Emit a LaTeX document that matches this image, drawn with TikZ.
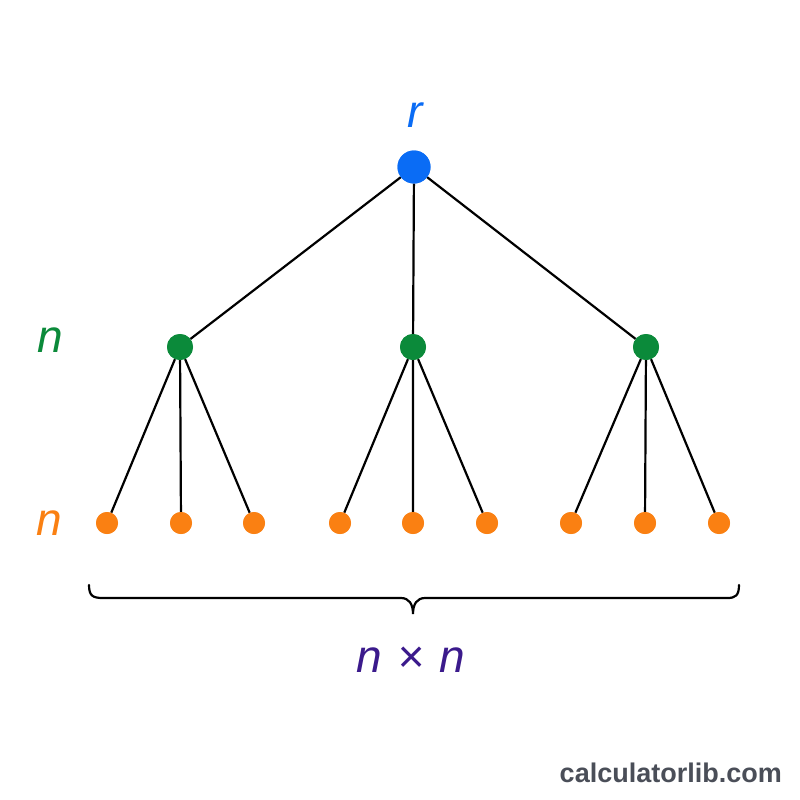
\documentclass[tikz,border=0pt]{standalone}
\usepackage{fontspec}
\setmainfont{Liberation Sans}
\definecolor{rootblue}{HTML}{0A6CF5}
\definecolor{midgreen}{HTML}{0B8A3A}
\definecolor{leaforange}{HTML}{FA8012}
\definecolor{labpurple}{HTML}{3B1A8C}
\definecolor{markgray}{HTML}{4A4E58}
\begin{document}
\begin{tikzpicture}[x=1pt,y=-1pt,
  rootdot/.style={circle,fill=rootblue,inner sep=0pt,minimum size=33pt},
  middot/.style={circle,fill=midgreen,inner sep=0pt,minimum size=26pt},
  leafdot/.style={circle,fill=leaforange,inner sep=0pt,minimum size=22pt},
  edge/.style={draw=black,line width=2.2pt},
  lab/.style={font=\fontsize{46}{50}\selectfont\itshape,anchor=base,inner sep=0pt}]
\useasboundingbox[fill=white] (0,0) rectangle (800,800);
% nodes
\node[rootdot] (r) at (414,167) {};
\node[middot] (m1) at (180,347) {};
\node[middot] (m2) at (413,347) {};
\node[middot] (m3) at (646,347) {};
\foreach \i/\x in {1/107,2/181,3/254,4/340,5/413,6/487,7/571,8/645,9/719}
  \node[leafdot] (l\i) at (\x,523) {};
% edges
\path[edge] (r) -- (m1) (r) -- (m2) (r) -- (m3);
\path[edge] (m1) -- (l1) (m1) -- (l2) (m1) -- (l3);
\path[edge] (m2) -- (l4) (m2) -- (l5) (m2) -- (l6);
\path[edge] (m3) -- (l7) (m3) -- (l8) (m3) -- (l9);
% redraw dots over edges
\node[rootdot] at (r) {};
\foreach \m in {m1,m2,m3} \node[middot] at (\m) {};
\foreach \i in {1,...,9} \node[leafdot] at (l\i) {};
% labels
\node[lab,text=rootblue] (rlab) at (415,127) {r};
\node[lab,text=midgreen] (nlab) at (50,352) {n};
\node[lab,text=leaforange] (olab) at (49,535) {n};
% brace
\draw[line width=2.2pt,line cap=round]
  (89,585) .. controls (89,596) and (93,598) .. (103,598) -- (401,598)
  .. controls (409,598) and (413,604) .. (413,614)
  .. controls (413,604) and (417,598) .. (425,598) -- (727,598)
  .. controls (735,598) and (739,596) .. (739,585);
\node[lab,text=labpurple] (prod) at (411,672) {n\,\,×\,\,n};
\node[anchor=base east,inner sep=0pt,text=markgray,font=\fontsize{27}{30}\selectfont\bfseries] (mark) at (782,782) {calculatorlib.com};
\end{tikzpicture}
\end{document}
